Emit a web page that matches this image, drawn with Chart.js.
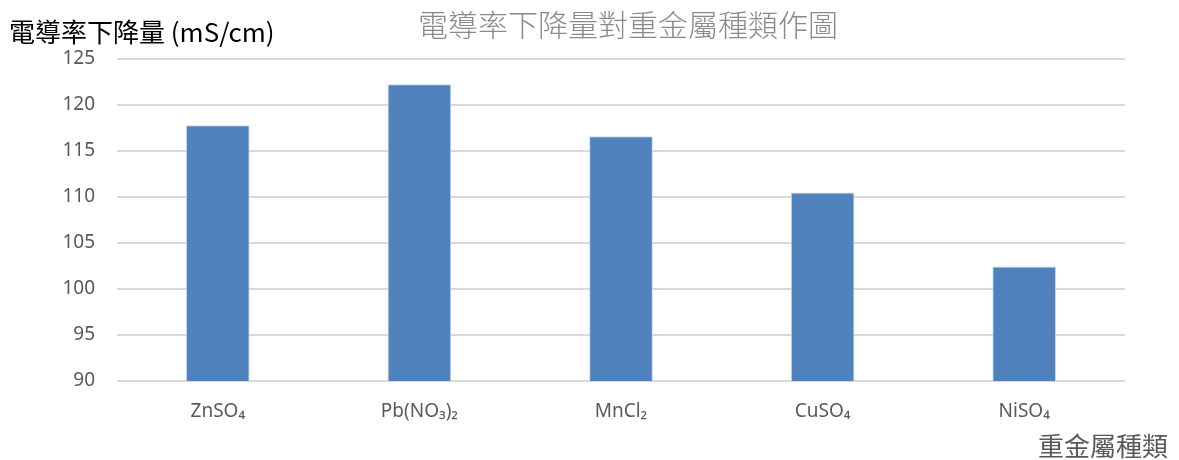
<!DOCTYPE html>
<html>
<head>
<meta charset="utf-8">
<script src="https://cdn.jsdelivr.net/npm/chart.js@4"></script>
<style>
  html, body { margin: 0; padding: 0; background: #fff; }
  #wrap { width: 1179px; height: 460px; }
</style>
</head>
<body>
<div id="wrap"><canvas id="metalChart" width="1179" height="460"></canvas></div>
<script>
const categories = ['ZnSO₄', 'Pb(NO₃)₂', 'MnCl₂', 'CuSO₄', 'NiSO₄'];
const dropValues = [117.8, 122.25, 116.6, 110.5, 102.45];
const yTicks = [90, 95, 100, 105, 110, 115, 120, 125];

const chartTitle = '電導率下降量對重金屬種類作圖';
const yTitle = '電導率下降量 (mS/cm)';
const xTitle = '重金屬種類';

const cjk = '"Noto Sans CJK TC", "Noto Sans", sans-serif';

// titles are drawn by hand, Excel style
const textPlugin = {
    id: 'textPlugin',
    afterDraw(chart) {
        const c = chart.ctx;
        c.save();
        c.textBaseline = 'middle';
        c.fillStyle = '#8a8a8a';
        c.font = '300 30px ' + cjk;
        c.textAlign = 'center';
        c.fillText(chartTitle, 628, 25);

        c.fillStyle = '#000000';
        c.font = '26px ' + cjk;
        c.textAlign = 'left';
        c.fillText(yTitle, 9, 32);

        c.fillStyle = '#595959';
        c.font = '26px ' + cjk;
        c.textAlign = 'right';
        c.fillText(xTitle, 1168, 446);
        c.restore();
    }
};

const ctx = document.getElementById('metalChart').getContext('2d');
const metalChart = new Chart(ctx, {
    type: 'bar',
    data: {
        labels: categories,
        datasets: [{
            data: dropValues,
            backgroundColor: '#4f81bd',
            borderColor: '#c9d7ea',
            borderWidth: 1,
            categoryPercentage: 1,
            barPercentage: 0.316
        }]
    },
    options: {
        responsive: false,
        animation: false,
        layout: {
            padding: { top: 59, right: 54, bottom: 0, left: 0 }
        },
        plugins: {
            legend: { display: false },
            tooltip: { enabled: false }
        },
        scales: {
            x: {
                grid: { display: false, drawTicks: false },
                border: { display: false },
                ticks: {
                    color: '#595959',
                    padding: 19,
                    font: { family: '"Noto Sans", sans-serif', size: 19 }
                },
                afterFit(scale) { scale.height = 79; }
            },
            y: {
                min: 90,
                max: 125,
                afterBuildTicks(scale) {
                    scale.ticks = yTicks.map(v => ({ value: v }));
                },
                grid: { color: '#d9d9d9', lineWidth: 2, drawTicks: false },
                border: { display: false },
                ticks: {
                    color: '#595959',
                    padding: 22,
                    font: { family: '"Noto Sans", sans-serif', size: 19 }
                },
                afterFit(scale) { scale.width = 117; }
            }
        }
    },
    plugins: [textPlugin]
});
</script>
</body>
</html>
